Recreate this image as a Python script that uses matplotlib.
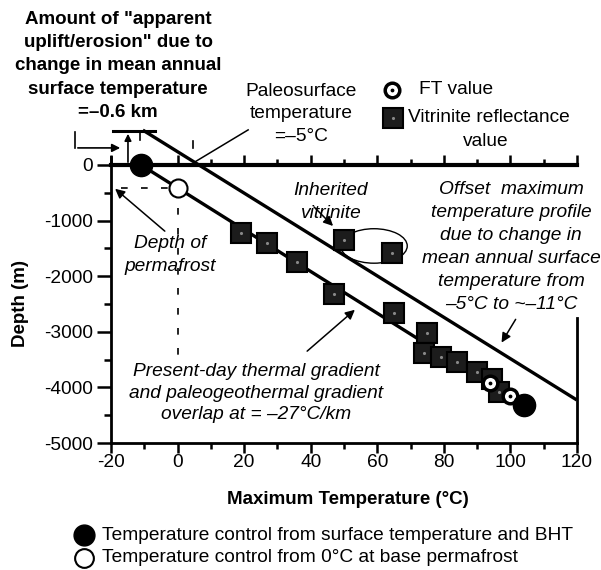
import matplotlib
matplotlib.use("Agg")
import matplotlib.pyplot as plt
from matplotlib.patches import Ellipse
from matplotlib.lines import Line2D
from matplotlib.ticker import MultipleLocator

plt.rcParams["font.family"] = ["Liberation Sans", "DejaVu Sans"]
plt.rcParams["axes.unicode_minus"] = False

# vitrinite reflectance samples on the present-day profile
vr_temp = [19, 27, 36, 47, 65, 75, 74, 79, 84, 90, 94.5, 96.5]
vr_depth = [-1220, -1400, -1750, -2320, -2660, -3020, -3380, -3450, -3540, -3720, -3850, -4080]
# inherited vitrinite (off the profile)
inh_temp = [50, 64.5]
inh_depth = [-1350, -1580]
# fission track values
ft_temp = [94, 100]
ft_depth = [-3920, -4155]
# temperature controls
bht_temp = [-11, 104]
bht_depth = [0, -4320]
perm_temp = [0]
perm_depth = [-410]
# gradients
present_temp = [-11, 104]
present_depth = [0, -4320]
offset_temp = [-10, 119.5]
offset_depth = [610, -4210]

W, H = 601, 570
FS = 13.8


def fx(x):
    return x / W


def fy(y):
    return 1 - y / H


fig = plt.figure(figsize=(W / 100, H / 100), dpi=100)
ax = fig.add_axes([111 / W, fy(443), 466 / W, (443 - 126) / H])
ax.set_xlim(-20, 120)
ax.set_ylim(-5000, 700)

# spines
for s in ["left", "right", "bottom", "top"]:
    ax.spines[s].set_linewidth(2)
ax.spines["top"].set_position(("data", 0))
ax.spines["top"].set_linewidth(3)
ax.spines["left"].set_bounds(-5000, 150)
ax.spines["right"].set_bounds(-5000, -2750)

ax.xaxis.set_major_locator(MultipleLocator(20))
ax.xaxis.set_minor_locator(MultipleLocator(10))
ax.set_yticks(range(-5000, 1, 1000))
ax.set_yticks(range(-4500, 0, 1000), minor=True)
ax.tick_params(axis="x", which="both", top=True, bottom=True, direction="out",
               labelsize=FS, width=1.8, pad=1)
ax.tick_params(axis="x", which="major", length=7)
ax.tick_params(axis="x", which="minor", length=4)
ax.tick_params(axis="y", which="both", direction="out", labelsize=FS, width=1.8, pad=3)
ax.tick_params(axis="y", which="major", length=10)
ax.tick_params(axis="y", which="minor", length=5)

ax.set_xlabel("Maximum Temperature (°C)", fontsize=13.5, fontweight="bold")
ax.set_ylabel("Depth (m)", fontsize=13.5, fontweight="bold")
ax.xaxis.set_label_coords(0.509, -0.15)
ax.yaxis.set_label_coords(-0.176, 0.44)

# gradient lines
ax.plot(present_temp, present_depth, color="black", lw=2.4, zorder=2)
ax.plot(offset_temp, offset_depth, color="black", lw=2.4, zorder=2, clip_on=False)

# dashed guides
ax.plot([0, 0], [perm_depth[0], -3450], color="black", lw=1.2, ls=(0, (4, 8)), zorder=1)
ax.plot([-20, 0], [perm_depth[0], perm_depth[0]], color="black", lw=1.2, ls=(6, (4, 8)), zorder=1)
ax.plot([-11.3, -11.3], [600, 440], color="black", lw=1.2, zorder=1)
ax.plot([4.6, 4.6], [430, 300], color="black", lw=1.2, zorder=1)

# uplift marker
ax.plot([-19.4, -6.8], [610, 610], color="black", lw=2.2, clip_on=False)
ax.annotate("", xy=(-14.9, 610), xytext=(-14.9, 0),
            arrowprops=dict(arrowstyle="-|>", color="black", lw=1.2, mutation_scale=10),
            annotation_clip=False)
ax.plot([-30.8, -30.8], [594, 306], color="black", lw=1.2, clip_on=False)
ax.annotate("", xy=(-16.4, 306), xytext=(-30.8, 306),
            arrowprops=dict(arrowstyle="-|>", color="black", lw=1.2, mutation_scale=12),
            annotation_clip=False)

# inherited vitrinite loop
ax.add_patch(Ellipse((59, -1457), 20, 620, angle=0, fill=False, lw=1, ec="black", zorder=2))

# markers
ax.plot(vr_temp, vr_depth, "s", ms=14, mfc="#1c1c1c", mec="black", mew=1.5, zorder=3)
ax.plot(vr_temp, vr_depth, ".", ms=2.5, color="#888888", zorder=3)
ax.plot(inh_temp, inh_depth, "s", ms=14, mfc="#1c1c1c", mec="black", mew=1.5, zorder=3)
ax.plot(inh_temp, inh_depth, ".", ms=2.5, color="#888888", zorder=3)
ax.plot(ft_temp, ft_depth, "o", ms=10.5, mfc="white", mec="black", mew=2.5, zorder=4)
ax.plot(ft_temp, ft_depth, ".", ms=3.5, color="black", zorder=4)
ax.plot(perm_temp, perm_depth, "o", ms=13, mfc="white", mec="black", mew=1.5, zorder=4)
ax.plot(bht_temp, bht_depth, "o", ms=16, mfc="black", mec="black", zorder=5, clip_on=False)

# annotation arrows
arw = dict(arrowstyle="-|>", color="black", lw=1.1, mutation_scale=14)
ax.plot([21.2, 5.2], [630, 54], color="black", lw=1.1, clip_on=False)
ax.annotate("", xy=(-19.4, -396), xytext=(-3.2, -1223), arrowprops=arw)
ax.annotate("", xy=(47.3, -1133), xytext=(40.4, -720), arrowprops=arw)
ax.annotate("", xy=(96.9, -3237), xytext=(102, -2734), arrowprops=arw)
ax.annotate("", xy=(53.9, -2572), xytext=(38.3, -3381), arrowprops=arw)

# texts
fig.text(fx(118), fy(66), 'Amount of "apparent\nuplift/erosion" due to\nchange in mean annual\n'
         'surface temperature\n=–0.6 km', ha="center", va="center", fontsize=13.5,
         fontweight="bold", linespacing=1.48)
fig.text(fx(301), fy(114), "Paleosurface\ntemperature\n=–5°C", ha="center", va="center",
         fontsize=FS, linespacing=1.45)
fig.text(fx(331), fy(202), "Inherited\nvitrinite", ha="center", va="center",
         fontsize=FS, style="italic", linespacing=1.45)
fig.text(fx(170), fy(255), "Depth of\npermafrost", ha="center", va="center",
         fontsize=FS, style="italic", linespacing=1.5)
fig.text(fx(511), fy(247), "Offset  maximum\ntemperature profile\ndue to change in\n"
         "mean annual surface\ntemperature from\n–5°C to ~–11°C", ha="center", va="center",
         fontsize=FS, style="italic", linespacing=1.45)
fig.text(fx(256), fy(393), "Present-day thermal gradient\nand paleogeothermal gradient\n"
         "overlap at = –27°C/km", ha="center", va="center", fontsize=FS,
         style="italic", linespacing=1.32)

# legend, top right
fig.add_artist(Line2D([fx(392)], [fy(90)], marker="o", ms=10.5, mfc="white", mec="black", mew=2.5))
fig.add_artist(Line2D([fx(392)], [fy(90)], marker=".", ms=3.5, color="black"))
fig.text(fx(419), fy(90), "FT value", ha="left", va="center", fontsize=FS)
fig.add_artist(Line2D([fx(393)], [fy(118)], marker="s", ms=14.5, mfc="#1c1c1c", mec="black", mew=1.5))
fig.add_artist(Line2D([fx(393)], [fy(118)], marker=".", ms=2.5, color="#888888"))
fig.text(fx(408), fy(118), "Vitrinite reflectance", ha="left", va="center", fontsize=FS)
fig.text(fx(486), fy(141), "value", ha="center", va="center", fontsize=FS)

# legend, bottom
fig.add_artist(Line2D([fx(84)], [fy(535)], marker="o", ms=15, mfc="black", mec="black"))
fig.text(fx(102), fy(535), "Temperature control from surface temperature and BHT",
         ha="left", va="center", fontsize=FS)
fig.add_artist(Line2D([fx(84)], [fy(558)], marker="o", ms=13.5, mfc="white", mec="black", mew=1.5))
fig.text(fx(102), fy(558), "Temperature control from 0°C at base permafrost",
         ha="left", va="center", fontsize=FS)

fig.savefig("out.png", dpi=100)
